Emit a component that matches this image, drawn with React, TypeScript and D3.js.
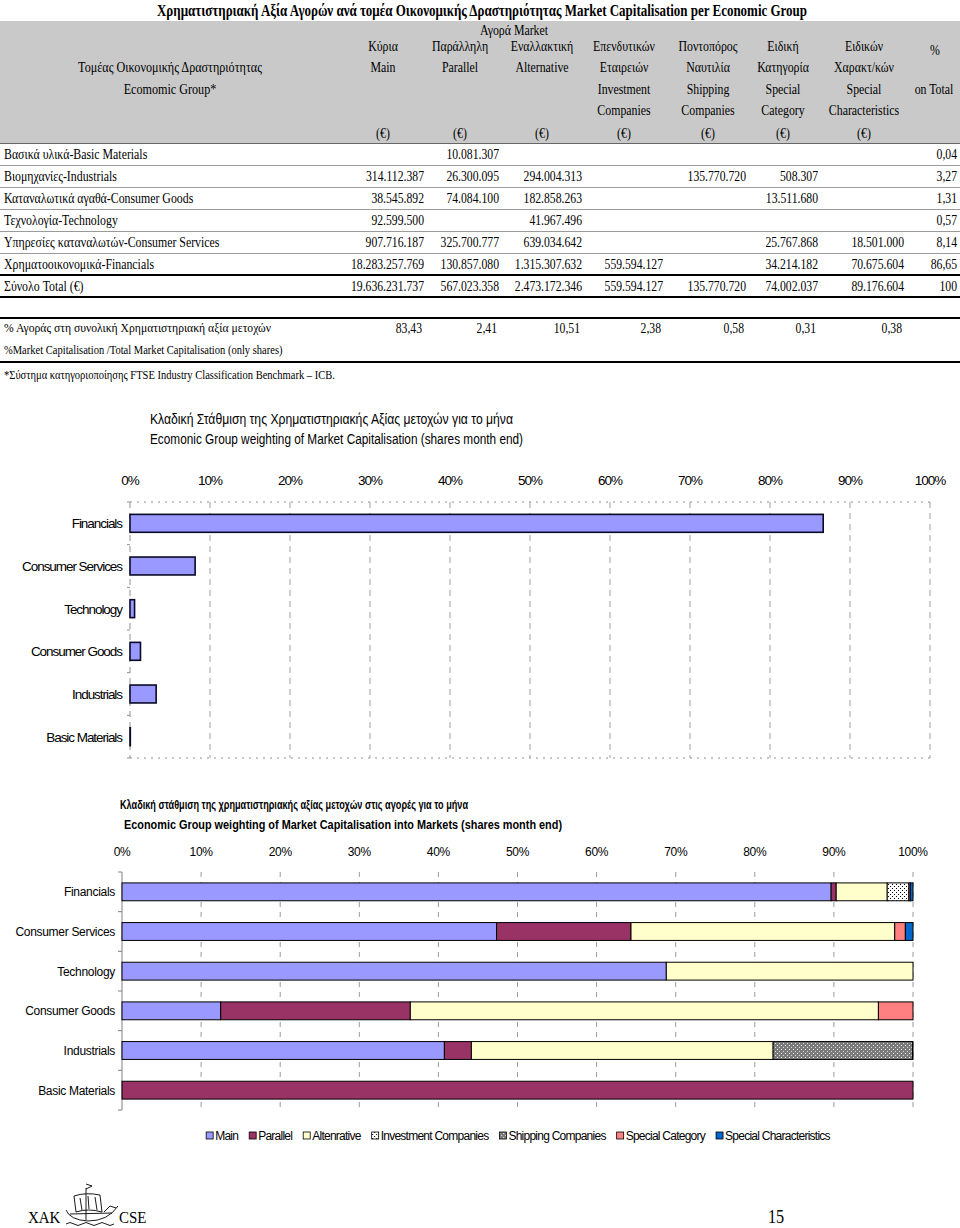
import { useEffect, useRef } from 'react';
import * as d3 from 'd3';

// Economic groups, in table order (top to bottom)
const groupsEn = ['Basic Materials', 'Industrials', 'Consumer Goods', 'Technology', 'Consumer Services', 'Financials'];
const groupsGr = [
  'Βασικά υλικά-Basic Materials',
  'Βιομηχανίες-Industrials',
  'Καταναλωτικά αγαθά-Consumer Goods',
  'Τεχνολογία-Technology',
  'Υπηρεσίες καταναλωτών-Consumer Services',
  'Χρηματοοικονομικά-Financials',
];

// Market capitalisation (€) per market, one entry per group (null = empty cell)
const mainValues = [null, 314112387, 38545892, 92599500, 907716187, 18283257769];
const parallelValues = [10081307, 26300095, 74084100, null, 325700777, 130857080];
const alternativeValues = [null, 294004313, 182858263, 41967496, 639034642, 1315307632];
const investmentValues = [null, null, null, null, null, 559594127];
const shippingValues = [null, 135770720, null, null, null, null];
const specialCategoryValues = [null, 508307, 13511680, null, 25767868, 34214182];
const specialCharValues = [null, null, null, null, 18501000, 70675604];

const marketValues = [
  mainValues, parallelValues, alternativeValues, investmentValues,
  shippingValues, specialCategoryValues, specialCharValues,
];

// Totals row as printed
const totalValues = [19636231737, 567023358, 2473172346, 559594127, 135770720, 74002037, 89176604];
const totalPct = 100;

// % on total per group
const pctOnTotal = [0.04, 3.27, 1.31, 0.57, 8.14, 86.65];

// % of each market in total market capitalisation
const marketSharePct = [83.43, 2.41, 10.51, 2.38, 0.58, 0.31, 0.38];

// Header texts per market column
const headerLines = [
  ['Κύρια', 'Main', '', ''],
  ['Παράλληλη', 'Parallel', '', ''],
  ['Εναλλακτική', 'Alternative', '', ''],
  ['Επενδυτικών', 'Εταιρειών', 'Investment', 'Companies'],
  ['Ποντοπόρος', 'Ναυτιλία', 'Shipping', 'Companies'],
  ['Ειδική', 'Κατηγορία', 'Special', 'Category'],
  ['Ειδικών', 'Χαρακτ/κών', 'Special', 'Characteristics'],
];

// Legend names (as in the source, typo included)
const legendNames = ['Main', 'Parallel', 'Altenrative', 'Investment Companies', 'Shipping Companies', 'Special Category', 'Special Characteristics'];

const pctTicks = [0, 10, 20, 30, 40, 50, 60, 70, 80, 90, 100];

const serif = "'Liberation Serif', 'Times New Roman', serif";
const sans = "'Liberation Sans', Arial, sans-serif";

interface TextOpts {
  size?: number;
  family?: string;
  anchor?: string;
  weight?: string;
  sx?: number;
  ls?: number;
  len?: number;
}

export default function App() {
  const svgRef = useRef<SVGSVGElement>(null);

  useEffect(() => {
    if (!svgRef.current) return;
    const svg = d3.select(svgRef.current);
    svg.selectAll('*').remove();

    const txt = (g: any, x: number, y: number, s: string, o: TextOpts = {}) => {
      const t = g.append('text')
        .attr('transform', `translate(${x},${y}) scale(${o.sx ?? 1},1)`)
        .attr('font-family', o.family ?? serif)
        .attr('font-size', o.size ?? 15)
        .attr('text-anchor', o.anchor ?? 'start')
        .attr('font-weight', o.weight ?? 'normal')
        .attr('letter-spacing', o.ls ?? 0)
        .attr('fill', '#000')
        .text(s);
      if (o.len) t.attr('textLength', o.len).attr('lengthAdjust', 'spacingAndGlyphs');
      return t;
    };

    const loc = d3.formatLocale({ decimal: ',', thousands: '.', grouping: [3], currency: ['', '€'] });
    const fmtInt = loc.format(',d');
    const fmtPct = loc.format('.2f');

    // ---------- table ----------
    const tb = svg.append('g');
    const SX = 0.79;   // condensed labels
    const NSX = 0.78;  // numbers
    const colRight = [424, 499, 582, 663, 746, 818, 904];
    const colCenter = [383, 460, 542, 624, 708, 783, 864];
    const pctRight = 957;

    txt(tb, 157, 16, 'Χρηματιστηριακή Αξία Αγορών ανά τομέα Οικονομικής Δραστηριότητας Market Capitalisation per Economic Group',
      { size: 16, weight: 'bold', len: 650 });

    tb.append('rect').attr('x', 0).attr('y', 21).attr('width', 960).attr('height', 122).attr('fill', '#c9c9c9');
    tb.append('line').attr('x1', 0).attr('x2', 960).attr('y1', 143.5).attr('y2', 143.5).attr('stroke', '#666');

    txt(tb, 514, 35, 'Αγορά Market', { sx: SX, anchor: 'middle' });
    const headerY = [51, 72, 94, 115];
    headerLines.forEach((lines, j) => {
      lines.forEach((l, k) => {
        if (l) txt(tb, colCenter[j], headerY[k], l, { sx: SX, anchor: 'middle' });
      });
      txt(tb, colCenter[j], 138, '(€)', { sx: SX, anchor: 'middle' });
    });
    txt(tb, 935, 55, '%', { sx: SX, anchor: 'middle' });
    txt(tb, 934, 94, 'on Total', { sx: SX, anchor: 'middle' });
    txt(tb, 170, 72, 'Τομέας Οικονομικής Δραστηριότητας', { sx: 0.81, anchor: 'middle' });
    txt(tb, 170, 94, 'Ecomomic Group*', { sx: 0.81, anchor: 'middle' });

    const rowY = (i: number) => 159 + i * 22;
    groupsGr.forEach((label, i) => {
      txt(tb, 4, rowY(i), label, { sx: SX });
      marketValues.forEach((vals, j) => {
        const v = vals[i];
        if (v != null) txt(tb, colRight[j], rowY(i), fmtInt(v), { sx: NSX, anchor: 'end' });
      });
      txt(tb, pctRight, rowY(i), fmtPct(pctOnTotal[i]), { sx: NSX, anchor: 'end' });
      if (i < groupsGr.length - 1) {
        tb.append('line').attr('x1', 0).attr('x2', 960)
          .attr('y1', 165.5 + i * 22).attr('y2', 165.5 + i * 22)
          .attr('stroke', '#9a9a9a').attr('stroke-width', 1.2);
      }
    });
    const totalRow = rowY(groupsGr.length);
    txt(tb, 4, totalRow, 'Σύνολο Total (€)', { sx: SX });
    totalValues.forEach((v, j) => txt(tb, colRight[j], totalRow, fmtInt(v), { sx: NSX, anchor: 'end' }));
    txt(tb, pctRight, totalRow, String(totalPct), { sx: NSX, anchor: 'end' });

    [275, 297, 318, 362].forEach(y => {
      tb.append('line').attr('x1', 0).attr('x2', 960).attr('y1', y).attr('y2', y)
        .attr('stroke', '#000').attr('stroke-width', 2);
    });

    txt(tb, 4, 332, '% Αγοράς στη συνολική Χρηματιστηριακή αξία μετοχών', { size: 13.5, len: 267 });
    txt(tb, 4, 354, '%Market Capitalisation /Total Market Capitalisation (only shares)', { size: 13.5, sx: 0.78 });
    marketSharePct.forEach((v, j) => txt(tb, colRight[j] - 2, 333, fmtPct(v), { sx: NSX, anchor: 'end' }));
    txt(tb, 4, 379, '*Σύστημα κατηγοριοποίησης FTSE Industry Classification Benchmark – ICB.', { size: 13.5, sx: 0.78 });

    // ---------- chart 1: weighting per group ----------
    const c1 = svg.append('g');
    const order = [...groupsEn].reverse();
    const pctByGroup = new Map(groupsEn.map((g, i) => [g, pctOnTotal[i]]));
    const x1 = d3.scaleLinear().domain([0, 100]).range([130, 930]);
    const y1 = d3.scaleBand().domain(order).range([502, 758]).paddingInner(0.58).paddingOuter(0.29);

    txt(c1, 150, 424, 'Κλαδική Στάθμιση της Χρηματιστηριακής Αξίας μετοχών για το μήνα',
      { family: sans, size: 14, len: 363 });
    txt(c1, 150, 444, 'Ecomonic Group weighting of Market Capitalisation (shares month end)',
      { family: sans, size: 14, len: 373 });

    pctTicks.forEach(t => {
      txt(c1, x1(t), 485, `${t}%`, { family: sans, size: 13.5, anchor: 'middle', ls: -1 });
      if (t > 0) {
        c1.append('line').attr('x1', x1(t)).attr('x2', x1(t)).attr('y1', 502).attr('y2', 758)
          .attr('stroke', '#a0a0a0').attr('stroke-dasharray', '6,5');
      }
    });
    [502, 758].forEach(y => {
      c1.append('line').attr('x1', 130).attr('x2', 930).attr('y1', y).attr('y2', y)
        .attr('stroke', '#909090').attr('stroke-dasharray', '2,5');
    });
    c1.append('line').attr('x1', 130).attr('x2', 130).attr('y1', 502).attr('y2', 758)
      .attr('stroke', '#909090').attr('stroke-dasharray', '6,5');
    d3.range(7).forEach(k => {
      const y = 502 + k * y1.step();
      c1.append('line').attr('x1', 127).attr('x2', 130).attr('y1', y).attr('y2', y).attr('stroke', '#909090');
    });

    c1.selectAll('rect.bar')
      .data(order)
      .enter().append('rect')
      .attr('class', 'bar')
      .attr('x', x1(0))
      .attr('y', d => y1(d) as number)
      .attr('width', d => x1(pctByGroup.get(d) as number) - x1(0))
      .attr('height', y1.bandwidth())
      .attr('fill', '#9999ff')
      .attr('stroke', '#0a0a28')
      .attr('stroke-width', 1.6);

    order.forEach(g => {
      txt(c1, 122, (y1(g) as number) + y1.bandwidth() / 2 + 5, g, { family: sans, size: 13.5, anchor: 'end', ls: -1.05 });
    });

    // ---------- chart 2: weighting into markets (100% stacked) ----------
    const c2 = svg.append('g');
    const defs = svg.append('defs');
    const pi = defs.append('pattern').attr('id', 'pat-invest').attr('width', 4).attr('height', 4)
      .attr('patternUnits', 'userSpaceOnUse');
    pi.append('rect').attr('width', 4).attr('height', 4).attr('fill', '#fff');
    pi.append('rect').attr('x', 0).attr('y', 0).attr('width', 1).attr('height', 1).attr('fill', '#000');
    pi.append('rect').attr('x', 2).attr('y', 2).attr('width', 1).attr('height', 1).attr('fill', '#000');
    const ps = defs.append('pattern').attr('id', 'pat-ship').attr('width', 4).attr('height', 4)
      .attr('patternUnits', 'userSpaceOnUse');
    ps.append('rect').attr('width', 4).attr('height', 4).attr('fill', '#7a7a7a');
    ps.append('rect').attr('x', 1).attr('y', 1).attr('width', 1).attr('height', 1).attr('fill', '#fff');
    ps.append('rect').attr('x', 3).attr('y', 3).attr('width', 1).attr('height', 1).attr('fill', '#ddd');

    const colors = ['#9999ff', '#993366', '#ffffcc', 'url(#pat-invest)', 'url(#pat-ship)', '#ff8080', '#0066cc'];

    const x2 = d3.scaleLinear().domain([0, 1]).range([122, 913]);
    const y2 = d3.scaleBand().domain(order).range([872, 1110]).paddingInner(0.55).paddingOuter(0.275);

    txt(c2, 120, 809, 'Κλαδική στάθμιση της χρηματιστηριακής αξίας μετοχών στις αγορές για το μήνα',
      { family: sans, size: 12.5, weight: 'bold', len: 348 });
    txt(c2, 124, 829, 'Economic Group weighting of Market Capitalisation into Markets (shares month end)',
      { family: sans, size: 12.5, weight: 'bold', len: 438 });

    pctTicks.forEach(t => {
      txt(c2, x2(t / 100), 856, `${t}%`, { family: sans, size: 12, anchor: 'middle', ls: -0.3 });
      if (t > 0) {
        c2.append('line').attr('x1', x2(t / 100)).attr('x2', x2(t / 100)).attr('y1', 872).attr('y2', 1110)
          .attr('stroke', '#9a9a9a').attr('stroke-dasharray', '5,5');
      }
    });
    c2.append('line').attr('x1', 122).attr('x2', 122).attr('y1', 872).attr('y2', 1110).attr('stroke', '#808080');
    d3.range(7).forEach(k => {
      const y = 872 + k * y2.step();
      c2.append('line').attr('x1', 118).attr('x2', 122).attr('y1', y).attr('y2', y).attr('stroke', '#808080');
    });

    groupsEn.forEach((g, i) => {
      const vals = marketValues.map(m => m[i] ?? 0);
      const sum = d3.sum(vals);
      let acc = 0;
      vals.forEach((v, j) => {
        if (v <= 0) return;
        const x0 = x2(acc / sum);
        acc += v;
        c2.append('rect')
          .attr('x', x0)
          .attr('y', y2(g) as number)
          .attr('width', x2(acc / sum) - x0)
          .attr('height', y2.bandwidth())
          .attr('fill', colors[j])
          .attr('stroke', '#000')
          .attr('stroke-width', 1);
      });
      txt(c2, 115, (y2(g) as number) + y2.bandwidth() / 2 + 4.5, g, { family: sans, size: 12, anchor: 'end', ls: -0.3 });
    });

    // legend
    const lg = svg.append('g');
    let lx = 0;
    legendNames.forEach((name, j) => {
      lg.append('rect').attr('x', lx).attr('y', 1132).attr('width', 7).attr('height', 7)
        .attr('fill', colors[j]).attr('stroke', '#000').attr('stroke-width', 0.8);
      const t = txt(lg, lx + 9, 1140, name, { family: sans, size: 12, ls: -0.75 });
      lx += 9 + (t.node() as SVGTextElement).getComputedTextLength() + 11;
    });
    lx -= 11;
    lg.attr('transform', `translate(${518 - lx / 2},0)`);

    // ---------- footer ----------
    const ft = svg.append('g');
    txt(ft, 28, 1223, 'XAK', { size: 17, sx: 0.88 });
    txt(ft, 119, 1223, 'CSE', { size: 17, sx: 0.88 });
    txt(ft, 776, 1223, '15', { size: 18, anchor: 'middle', sx: 0.9 });
    const ship = ft.append('g').attr('fill', 'none').attr('stroke', '#000').attr('stroke-width', 0.9);
    ship.append('path').attr('d', 'M86,1188 L86,1220');
    ship.append('path').attr('d', 'M86,1189 L92,1186 L86,1184');
    ship.append('path').attr('d', 'M74,1196 Q86,1192 100,1195 L102,1212 Q88,1208 76,1212 Z');
    ship.append('path').attr('d', 'M80,1198 L82,1210 M88,1196 L89,1209 M95,1197 L97,1210');
    ship.append('path').attr('d', 'M66,1210 Q70,1220 88,1221 Q108,1221 118,1206');
    ship.append('path').attr('d', 'M70,1214 L112,1213 M104,1212 L110,1206 L116,1208');
    ship.append('path').attr('d', 'M66,1224 q4,-3 8,0 t8,0 t8,0 t8,0 t8,0 t8,0');
  }, []);

  return (
    <svg
      ref={svgRef}
      width={960}
      height={1228}
      style={{ position: 'absolute', left: 0, top: 0, background: '#fff' }}
    />
  );
}
